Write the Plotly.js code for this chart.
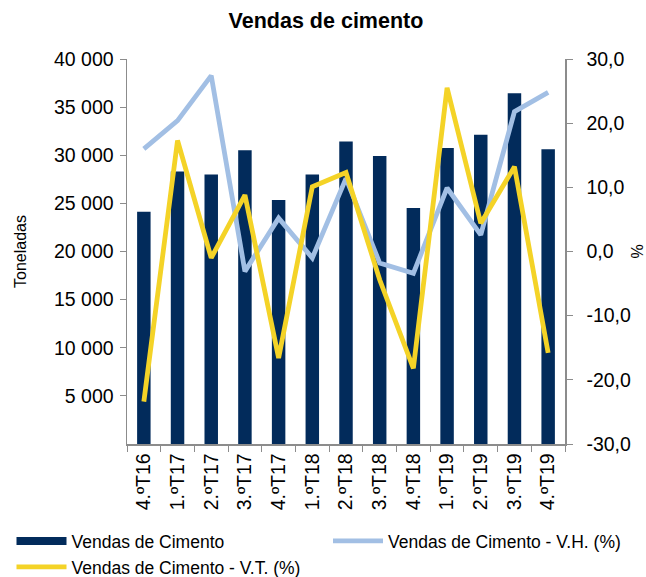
<!DOCTYPE html>
<html>
<head>
<meta charset="utf-8">
<script src="https://cdn.plot.ly/plotly-3.0.1.min.js"></script>
<style>html,body{margin:0;padding:0;background:#fff}#chart{width:646px;height:577px}</style>
</head>
<body>
<div id="chart"></div>
<script>
const categories = ["4.ºT16","1.ºT17","2.ºT17","3.ºT17","4.ºT17","1.ºT18","2.ºT18","3.ºT18","4.ºT18","1.ºT19","2.ºT19","3.ºT19","4.ºT19"];
const vendas = [24140, 28300, 27990, 30510, 25360, 28000, 31420, 29930, 24530, 30760, 32140, 36440, 30620];
const varHomologa = [16.0, 20.4, 27.4, -3.1, 5.2, -1.0, 11.4, -1.8, -3.4, 9.9, 2.6, 21.8, 24.8];
const varTrimestral = [-23.4, 17.3, -1.0, 8.8, -16.6, 10.1, 12.3, -4.4, -18.2, 25.5, 4.4, 13.2, -15.8];
const leftTickVals = [5000, 10000, 15000, 20000, 25000, 30000, 35000, 40000];
const leftTickText = ["5 000","10 000","15 000","20 000","25 000","30 000","35 000","40 000"];
const rightTickVals = [-30, -20, -10, 0, 10, 20, 30];
const rightTickText = ["-30,0","-20,0","-10,0","0,0","10,0","20,0","30,0"];
const seriesNames = ["Vendas de Cimento", "Vendas de Cimento - V.H. (%)", "Vendas de Cimento - V.T. (%)"];

const navy = "#022B5B", light = "#A2BFE4", yellow = "#F4D327";
const font = "Liberation Sans, Arial, sans-serif";

const traces = [
  {type:"bar", x:categories, y:vendas, name:seriesNames[0], marker:{color:navy}, showlegend:false, hoverinfo:"skip"},
  {type:"scatter", mode:"lines", x:[categories[0]], y:[null], name:seriesNames[0], line:{color:navy, width:8}, legend:"legend", hoverinfo:"skip"},
  {type:"scatter", mode:"lines", x:categories, y:varHomologa, name:seriesNames[1], yaxis:"y2", line:{color:light, width:4.8}, legend:"legend2", hoverinfo:"skip"},
  {type:"scatter", mode:"lines", x:categories, y:varTrimestral, name:seriesNames[2], yaxis:"y2", line:{color:yellow, width:4.8}, legend:"legend3", hoverinfo:"skip"}
];

const axisColor = "#8C8C8C";
const legendBase = {orientation:"h", xref:"container", yref:"container", xanchor:"left", yanchor:"top", font:{family:font, size:17.5, color:"#000"}, itemwidth:50, bgcolor:"rgba(0,0,0,0)"};
const layout = {
  width:646, height:577,
  paper_bgcolor:"#fff", plot_bgcolor:"#fff",
  font:{family:font, color:"#000", size:19.5},
  title:{text:"<b>Vendas de cimento</b>", font:{family:font, size:21.5, color:"#000"}, x:326/646, xanchor:"center", y:1-20/577, yanchor:"middle"},
  margin:{l:127, r:81, t:59, b:133},
  bargap:0.6,
  showlegend:true,
  legend:Object.assign({}, legendBase, {x:11.5/646, y:54/577}),
  legend2:Object.assign({}, legendBase, {x:328/646, y:54/577}),
  legend3:Object.assign({}, legendBase, {x:11.5/646, y:28/577}),
  xaxis:{type:"category", showline:true, linecolor:axisColor, linewidth:1.5, ticks:"outside", tickson:"boundaries", ticklen:6, tickcolor:axisColor, tickangle:-90, tickfont:{size:19.5}, showgrid:false, zeroline:false, fixedrange:true, automargin:false},
  yaxis:{range:[0,40000], tickvals:leftTickVals, ticktext:leftTickText, tickfont:{size:19.5}, ticklabelstandoff:2, showline:true, linecolor:axisColor, linewidth:1.5, ticks:"outside", ticklen:6, tickcolor:axisColor, showgrid:false, zeroline:false, title:{text:"Toneladas", font:{size:16}, standoff:23}, automargin:false, fixedrange:true},
  yaxis2:{overlaying:"y", side:"right", range:[-30,30], tickvals:rightTickVals, ticktext:rightTickText, tickfont:{size:19.5}, ticklabelstandoff:10, showline:true, linecolor:axisColor, linewidth:1.5, ticks:"outside", ticklen:6, tickcolor:axisColor, showgrid:false, zeroline:false, title:{text:"%", font:{size:16}, standoff:2}, automargin:false, fixedrange:true}
};

Plotly.newPlot("chart", traces, layout, {displayModeBar:false, staticPlot:true});
</script>
</body>
</html>
